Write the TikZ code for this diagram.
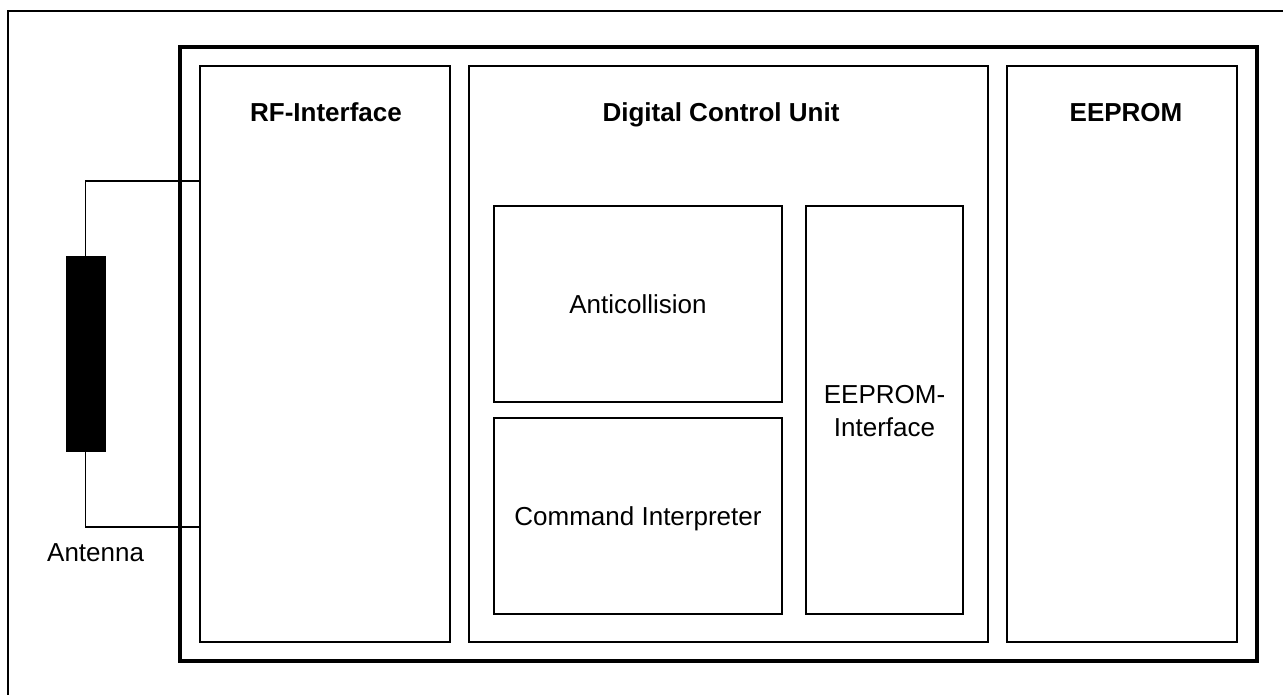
\documentclass[tikz,border=0pt]{standalone}
\usepackage{fontspec}
\setmainfont{Liberation Sans}
\begin{document}
\begin{tikzpicture}[x=1pt,y=-1pt,
  box/.style={draw=black,line width=1.8pt,inner sep=0pt},
  chipbox/.style={draw=black,line width=4.5pt,inner sep=0pt},
  wire/.style={draw=black,line width=1.8pt},
  title/.style={font=\fontsize{26}{33}\selectfont\bfseries,inner sep=0pt,anchor=base},
  lab/.style={font=\fontsize{26}{33}\selectfont,inner sep=0pt,align=center}]
\useasboundingbox (0,0) rectangle (1283,695);
% thin outer frame (only left and top visible)
\coordinate (fbl) at (8,700);
\coordinate (ftl) at (8,11);
\coordinate (ftr) at (1290,11);
\draw[line width=1.8pt] (fbl) -- (ftl) -- (ftr);
% chip
\node[chipbox,minimum width=1077pt,minimum height=614pt] (chip) at (718.5,354) {};
\node[box,minimum width=250pt,minimum height=576pt] (rf) at (325,354) {};
\node[box,minimum width=519pt,minimum height=576pt] (dcu) at (728.5,354) {};
\node[box,minimum width=230pt,minimum height=576pt] (eep) at (1122,354) {};
\node[box,minimum width=288pt,minimum height=196pt] (anti) at (638,304) {};
\node[box,minimum width=288pt,minimum height=196pt] (cmd) at (638,516) {};
\node[box,minimum width=157pt,minimum height=408pt] (eif) at (884.5,410) {};
% titles
\node[title] (rft) at (326,122) {RF-Interface};
\node[title] (dcut) at (721,122) {Digital Control Unit};
\node[title] (eept) at (1126,122) {EEPROM};
\node[lab,anchor=base] (antit) at (638,313) {Anticollision};
\node[lab,anchor=base] (cmdt) at (638,525) {Command Interpreter};
\node[lab] (eift) at (884.5,411) {EEPROM-\\Interface};
% antenna
\node[fill=black,draw=black,line width=1pt,inner sep=0pt,minimum width=39pt,minimum height=194pt] (ant) at (85.5,354) {};
\coordinate (ytop) at (0,181);
\coordinate (ybot) at (0,527);
\draw[wire] (ant.north) |- (rf.west |- ytop);
\draw[wire] (ant.south) |- (rf.west |- ybot);
\node[lab,anchor=base west] (antl) at (47,561) {Antenna};
\end{tikzpicture}
\end{document}
